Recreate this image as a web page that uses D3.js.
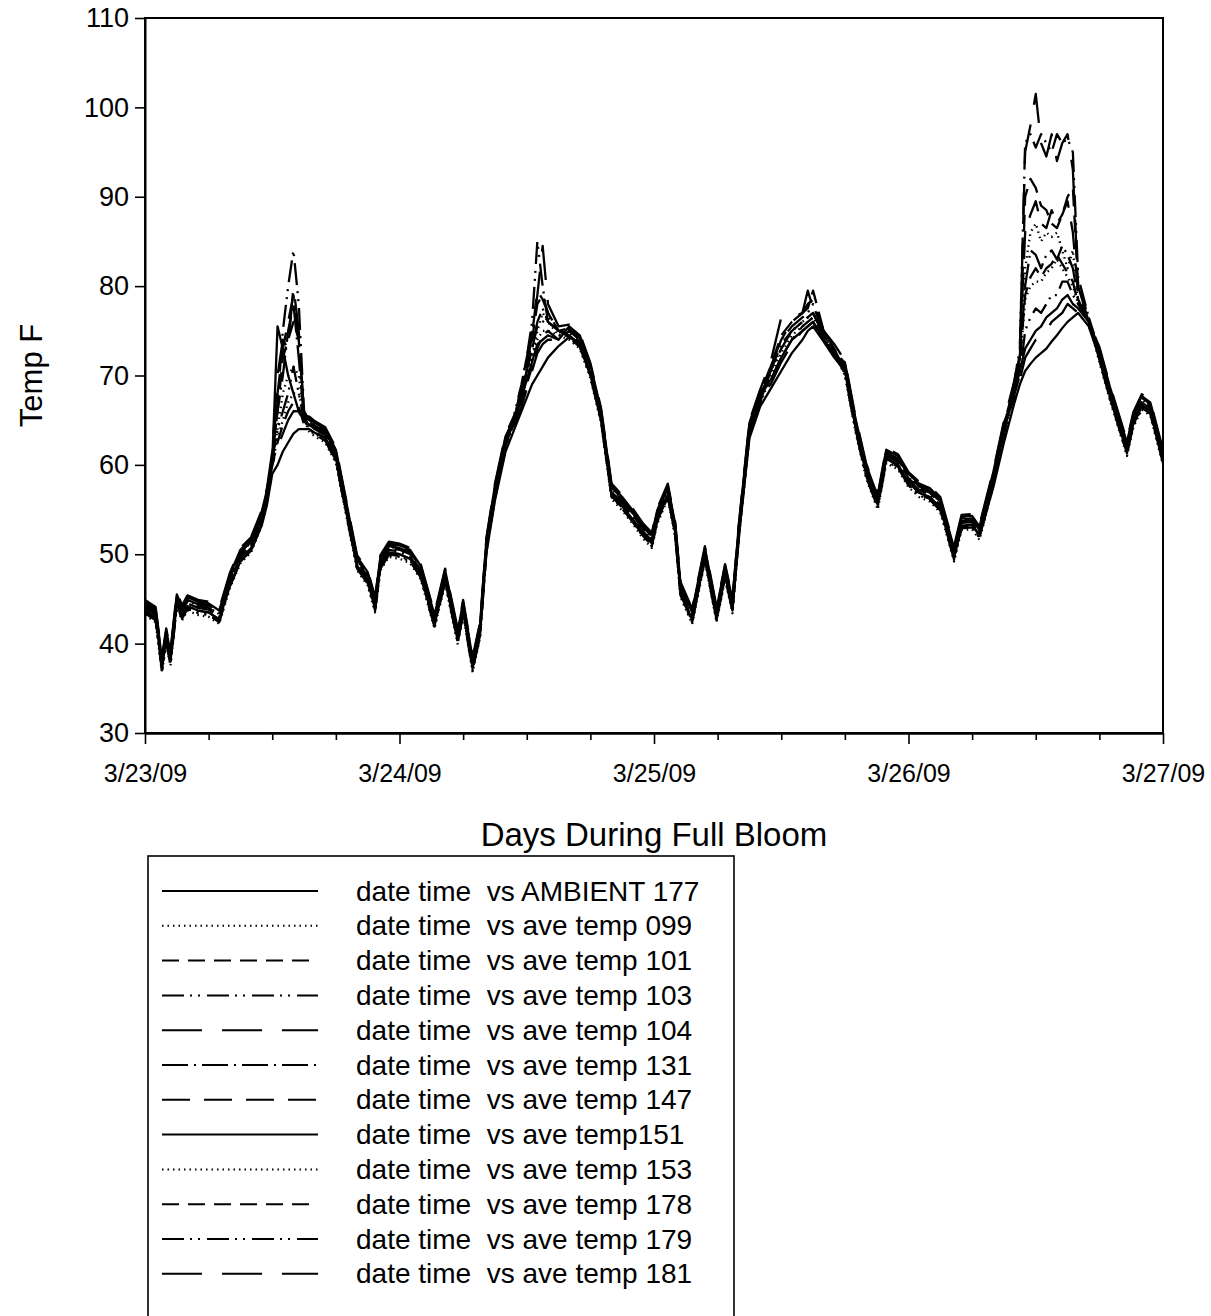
<!DOCTYPE html>
<html>
<head>
<meta charset="utf-8">
<script src="https://cdn.jsdelivr.net/npm/d3@7"></script>
<style>
  body { margin: 0; background: #fff; }
  svg { display: block; font-family: "Liberation Sans", Arial, sans-serif; }
  .legend text { white-space: pre; }
</style>
</head>
<body>
<svg id="chart" width="1211" height="1316"></svg>
<script>
// ---- data: hours after 3/23/09 00:00
const hours = [
  0, 1, 1.6, 2, 2.4, 3, 3.5, 4, 5, 6, 7, 8, 9, 10, 11, 11.5, 12, 12.5, 13, 13.5, 14, 14.5, 15, 15.5, 16, 17, 18, 19, 20, 21, 21.7, 22.2, 23,
  24, 25, 26, 27.3, 28.3, 29.5, 30, 30.9, 31.6, 32.2, 33, 34, 35, 35.5, 36, 36.5, 37, 37.5, 38, 39, 40, 41, 42, 43, 44, 45, 46, 47, 47.8,
  48.3, 49.3, 50, 50.5, 51.6, 52.8, 53.9, 54.7, 55.4, 56, 57, 58, 59, 60, 61, 62, 62.5, 63, 64, 65, 66, 67, 68, 69.1, 69.9, 71,
  72, 73, 74, 75, 76.3, 77, 78, 78.7, 80, 81, 82, 82.5, 83, 83.5, 84, 84.5, 85, 85.5, 86, 86.5, 87, 87.5, 88, 89, 90, 91, 92.6, 93.2, 94, 94.8, 96
];

const dayLabels = ['3/23/09', '3/24/09', '3/25/09', '3/26/09', '3/27/09'];
const dayTicks = [0, 24, 48, 72, 96];
const minorTicks = [6, 12, 18, 30, 36, 42, 54, 60, 66, 78, 84, 90];
const yTicks = [30, 40, 50, 60, 70, 80, 90, 100, 110];

const ambient177 = [
  43.7, 42.9, 37.3, 40.5, 38.0, 44.5, 43.1, 44.2, 43.7, 43.5, 42.7, 46.4, 49.2, 50.4, 53.2, 55.5,
  59.0, 60.0, 61.5, 62.5, 63.5, 64.0, 64.0,
  64.0, 63.6, 63.0, 60.8, 54.6, 48.7, 47.0, 44.0, 48.7, 50.2,
  50.0, 49.5, 47.7, 42.2, 47.2, 40.4, 43.7, 37.3, 41.2, 50.2, 56.0, 61.5,
  64.5, 66.0, 67.5, 69.0, 70.0, 71.0, 72.0, 73.3,
  74.3, 73.5, 70.2, 65.2, 56.7, 55.4, 53.9, 52.2, 51.2,
  53.9, 56.7, 52.4, 45.7, 42.7, 49.7, 42.9, 47.7, 43.9, 52.0, 63.0, 66.5,
  68.5, 70.5, 72.5, 74.0, 75.0, 75.5, 73.8, 72.0,
  70.5, 64.2, 59.0, 55.5, 60.7, 60.0,
  58.0, 56.9, 56.4, 55.2, 49.7, 53.2, 53.3, 52.1, 57.5, 62.5,
  67.0, 69.0, 70.5, 71.3, 72.0, 72.5, 73.0, 73.8, 74.5, 75.3, 76.0, 76.5, 77.0, 75.5,
  72.0, 67.7, 61.5, 64.7, 66.7, 66.0, 60.5
];
const temp099 = [
  44.3, 43.5, 37.9, 41.1, 38.6, 45.1, 43.7, 44.8, 44.3, 44.1, 43.3, 47.3, 50.1, 51.3, 54.3, 56.8,
  60.5, 64.0, 68.0, 70.0, 71.0, 70.0, 65.5,
  64.8, 64.3, 63.6, 61.3, 55.3, 49.3, 47.6, 44.6, 49.3, 50.8,
  50.6, 50.1, 48.3, 42.8, 47.8, 41.0, 44.3, 37.9, 41.8, 51.3, 57.3, 62.8,
  66.0, 68.0, 70.0, 72.0, 75.0, 77.0, 76.0, 74.5,
  75.1, 74.1, 70.8, 65.8, 57.3, 56.0, 54.5, 52.8, 51.8,
  54.5, 57.3, 53.0, 46.3, 43.3, 50.3, 43.5, 48.3, 44.5, 52.8, 64.3, 67.8,
  70.5, 73.0, 75.0, 76.0, 76.5, 77.0, 74.5, 72.5,
  71.1, 64.8, 59.6, 56.1, 61.3, 60.6,
  58.6, 57.5, 57.0, 55.8, 50.3, 53.8, 53.9, 52.7, 58.8, 64.3,
  69.0, 72.0, 82.0, 86.0, 87.0, 85.0, 86.0, 85.5, 86.0, 84.0, 82.0, 84.0, 78.0, 76.0,
  72.6, 68.3, 62.1, 65.3, 67.3, 66.6, 61.1
];
const temp101 = [
  44.5, 43.7, 38.1, 41.3, 38.8, 45.3, 43.9, 45.0, 44.5, 44.3, 43.5, 47.5, 50.3, 51.5, 54.5, 57.0,
  61.0, 66.0, 72.0, 74.0, 76.0, 74.0, 66.0,
  65.0, 64.5, 63.8, 61.5, 55.5, 49.5, 47.8, 44.8, 49.5, 51.0,
  50.8, 50.3, 48.5, 43.0, 48.0, 41.2, 44.5, 38.1, 42.0, 51.5, 57.5, 63.0,
  66.0, 68.5, 71.0, 74.0, 78.0, 79.0, 77.0, 75.0,
  75.3, 74.3, 71.0, 66.0, 57.5, 56.2, 54.7, 53.0, 52.0,
  54.7, 57.5, 53.2, 46.5, 43.5, 50.5, 43.7, 48.5, 44.7, 53.0, 64.5, 68.0,
  71.0, 74.5, 76.0, 77.0, 77.5, 79.5, 75.0, 73.0,
  71.3, 65.0, 59.8, 56.3, 61.5, 60.8,
  58.8, 57.7, 57.2, 56.0, 50.5, 54.0, 54.1, 52.9, 59.0, 64.5,
  69.0, 72.0, 90.0, 92.0, 91.0, 89.0, 88.5, 87.0, 86.5, 88.0, 90.0, 91.0, 80.0, 76.5,
  72.8, 68.5, 62.3, 65.5, 67.5, 66.8, 61.3
];
const temp103 = [
  43.4, 42.6, 37.0, 40.2, 37.7, 44.2, 42.8, 43.9, 43.4, 43.2, 42.4, 46.4, 49.2, 50.4, 53.4, 55.9,
  61.0, 67.0, 75.0, 80.0, 84.0, 78.0, 66.0,
  63.9, 63.4, 62.7, 60.4, 54.4, 48.4, 46.7, 43.7, 48.4, 49.9,
  49.7, 49.2, 47.4, 41.9, 46.9, 40.1, 43.4, 37.0, 40.9, 50.4, 56.4, 61.9,
  66.5, 69.0, 72.0, 76.0, 85.0, 80.0, 76.0, 75.0,
  74.2, 73.2, 69.9, 64.9, 56.4, 55.1, 53.6, 51.9, 50.9,
  53.6, 56.4, 52.1, 45.4, 42.4, 49.4, 42.6, 47.4, 43.6, 51.9, 63.4, 66.9,
  71.0, 74.0, 75.5, 76.5, 77.0, 78.0, 74.5, 72.5,
  70.2, 63.9, 58.7, 55.2, 60.4, 59.7,
  57.7, 56.6, 56.1, 54.9, 49.4, 52.9, 53.0, 51.8, 57.9, 63.4,
  69.5, 73.0, 96.0, 97.0, 95.5, 97.0, 96.0, 95.0, 97.0, 96.0, 96.5, 95.0, 81.0, 76.5,
  71.7, 67.4, 61.2, 64.4, 66.4, 65.7, 60.2
];
const temp104 = [
  44.9, 44.1, 38.5, 41.7, 39.2, 45.7, 44.3, 45.4, 44.9, 44.7, 43.9, 47.9, 50.7, 51.9, 54.9, 57.4,
  61.5, 70.0, 74.0, 73.0, 80.0, 75.0, 65.5,
  65.4, 64.9, 64.2, 61.9, 55.9, 49.9, 48.2, 45.2, 49.9, 51.4,
  51.2, 50.7, 48.9, 43.4, 48.4, 41.6, 44.9, 38.5, 42.4, 51.9, 57.9, 63.4,
  66.0, 69.0, 72.0, 75.0, 79.0, 84.5, 78.0, 75.5,
  75.7, 74.7, 71.4, 66.4, 57.9, 56.6, 55.1, 53.4, 52.4,
  55.1, 57.9, 53.6, 46.9, 43.9, 50.9, 44.1, 48.9, 45.1, 53.4, 64.9, 68.4,
  71.5, 76.5, 76.5, 77.0, 79.5, 77.5, 75.0, 73.5,
  71.7, 65.4, 60.2, 56.7, 61.9, 61.2,
  59.2, 58.1, 57.6, 56.4, 50.9, 54.4, 54.5, 53.3, 59.4, 64.9,
  69.5, 73.0, 95.0, 98.0, 101.5, 96.0, 94.5, 97.0, 94.0, 96.0, 97.0, 93.0, 80.0, 76.0,
  73.2, 68.9, 62.7, 65.9, 67.9, 67.2, 61.7
];
const temp131 = [
  44.0, 43.2, 37.6, 40.8, 38.3, 44.8, 43.4, 44.5, 44.0, 43.8, 43.0, 47.0, 49.8, 51.0, 54.0, 56.5,
  61.0, 66.0, 70.0, 75.0, 78.0, 72.0, 65.0,
  64.5, 64.0, 63.3, 61.0, 55.0, 49.0, 47.3, 44.3, 49.0, 50.5,
  50.3, 49.8, 48.0, 42.5, 47.5, 40.7, 44.0, 37.6, 41.5, 51.0, 57.0, 62.5,
  65.5, 68.0, 70.5, 73.0, 76.0, 77.5, 76.0, 75.0,
  74.8, 73.8, 70.5, 65.5, 57.0, 55.7, 54.2, 52.5, 51.5,
  54.2, 57.0, 52.7, 46.0, 43.0, 50.0, 43.2, 48.0, 44.2, 52.5, 64.0, 67.5,
  70.5, 73.5, 75.0, 76.0, 76.5, 77.0, 74.5, 72.5,
  70.8, 64.5, 59.3, 55.8, 61.0, 60.3,
  58.3, 57.2, 56.7, 55.5, 50.0, 53.5, 53.6, 52.4, 58.5, 64.0,
  69.0, 72.0, 80.0, 84.0, 83.5, 82.0, 83.5, 84.0, 83.0, 84.5, 83.5, 82.0, 78.5, 76.0,
  72.3, 68.0, 61.8, 65.0, 67.0, 66.3, 60.8
];
const temp147 = [
  43.7, 42.9, 37.3, 40.5, 38.0, 44.5, 43.1, 44.2, 43.7, 43.5, 42.7, 46.7, 49.5, 50.7, 53.7, 56.2,
  61.0, 68.0, 73.0, 76.0, 79.0, 74.0, 65.5,
  64.2, 63.7, 63.0, 60.7, 54.7, 48.7, 47.0, 44.0, 48.7, 50.2,
  50.0, 49.5, 47.7, 42.2, 47.2, 40.4, 43.7, 37.3, 41.2, 50.7, 56.7, 62.2,
  66.0, 68.5, 71.0, 74.5, 79.5, 78.5, 77.0, 75.0,
  74.5, 73.5, 70.2, 65.2, 56.7, 55.4, 53.9, 52.2, 51.2,
  53.9, 56.7, 52.4, 45.7, 42.7, 49.7, 42.9, 47.7, 43.9, 52.2, 63.7, 67.2,
  71.0, 74.0, 76.0, 77.0, 78.0, 78.5, 75.0, 73.0,
  70.5, 64.2, 59.0, 55.5, 60.7, 60.0,
  58.0, 56.9, 56.4, 55.2, 49.7, 53.2, 53.3, 52.1, 58.2, 63.7,
  69.0, 72.5, 86.0, 88.0, 89.5, 87.0, 86.5, 88.5, 87.0, 88.0, 89.5, 86.0, 79.0, 76.0,
  72.0, 67.7, 61.5, 64.7, 66.7, 66.0, 60.5
];
const temp151 = [
  44.7, 43.9, 38.3, 41.5, 39.0, 45.5, 44.1, 45.2, 44.7, 44.5, 43.7, 47.7, 50.5, 51.7, 54.7, 57.2,
  60.5, 75.5, 73.0, 70.0, 68.0, 66.0, 65.0,
  65.2, 64.7, 64.0, 61.7, 55.7, 49.7, 48.0, 45.0, 49.7, 51.2,
  51.0, 50.5, 48.7, 43.2, 48.2, 41.4, 44.7, 38.3, 42.2, 51.7, 57.7, 63.2,
  65.5, 67.5, 69.5, 71.5, 73.5, 74.0, 74.5, 74.0,
  75.5, 74.5, 71.2, 66.2, 57.7, 56.4, 54.9, 53.2, 52.2,
  54.9, 57.7, 53.4, 46.7, 43.7, 50.7, 43.9, 48.7, 44.9, 53.2, 64.7, 68.2,
  69.5, 72.0, 74.0, 75.0, 75.5, 76.0, 74.0, 72.3,
  71.5, 65.2, 60.0, 56.5, 61.7, 61.0,
  59.0, 57.9, 57.4, 56.2, 50.7, 54.2, 54.3, 53.1, 59.2, 64.7,
  68.0, 70.5, 73.0, 74.0, 75.0, 75.5, 76.5, 77.0, 77.5, 78.5, 79.0, 78.0, 77.5, 76.0,
  73.0, 68.7, 62.5, 65.7, 67.7, 67.0, 61.5
];
const temp153 = [
  43.2, 42.4, 36.8, 40.0, 37.5, 44.0, 42.6, 43.7, 43.2, 43.0, 42.2, 46.2, 49.0, 50.2, 53.2, 55.7,
  60.0, 63.0, 65.0, 67.0, 68.0, 68.0, 65.0,
  63.7, 63.2, 62.5, 60.2, 54.2, 48.2, 46.5, 43.5, 48.2, 49.7,
  49.5, 49.0, 47.2, 41.7, 46.7, 39.9, 43.2, 36.8, 40.7, 50.2, 56.2, 61.7,
  65.5, 67.5, 69.5, 72.0, 74.0, 75.0, 75.0, 74.5,
  74.0, 73.0, 69.7, 64.7, 56.2, 54.9, 53.4, 51.7, 50.7,
  53.4, 56.2, 51.9, 45.2, 42.2, 49.2, 42.4, 47.2, 43.4, 51.7, 63.2, 66.7,
  70.0, 72.5, 74.5, 75.5, 76.0, 76.5, 74.5, 72.5,
  70.0, 63.7, 58.5, 55.0, 60.2, 59.5,
  57.5, 56.4, 55.9, 54.7, 49.2, 52.7, 52.8, 51.6, 57.7, 63.2,
  68.5, 71.0, 78.5, 80.0, 80.5, 80.5, 81.5, 82.0, 83.0, 82.0, 81.0, 80.0, 78.0, 76.0,
  71.5, 67.2, 61.0, 64.2, 66.2, 65.5, 60.0
];
const temp178 = [
  44.2, 43.4, 37.8, 41.0, 38.5, 45.0, 43.6, 44.7, 44.2, 44.0, 43.2, 47.2, 50.0, 51.2, 54.2, 56.7,
  60.0, 62.5, 64.5, 66.0, 67.0, 66.5, 64.5,
  64.7, 64.2, 63.5, 61.2, 55.2, 49.2, 47.5, 44.5, 49.2, 50.7,
  50.5, 50.0, 48.2, 42.7, 47.7, 40.9, 44.2, 37.8, 41.7, 51.2, 57.2, 62.7,
  65.0, 67.0, 69.0, 71.0, 73.0, 74.5, 75.0, 74.0,
  75.0, 74.0, 70.7, 65.7, 57.2, 55.9, 54.4, 52.7, 51.7,
  54.4, 57.2, 52.9, 46.2, 43.2, 50.2, 43.4, 48.2, 44.4, 52.7, 64.2, 67.7,
  69.5, 72.0, 74.0, 75.5, 76.0, 76.5, 74.5, 72.5,
  71.0, 64.7, 59.5, 56.0, 61.2, 60.5,
  58.5, 57.4, 56.9, 55.7, 50.2, 53.7, 53.8, 52.6, 58.7, 64.2,
  68.5, 71.5, 79.0, 81.0, 82.0, 81.0, 82.0, 82.5, 83.5, 82.5, 81.5, 80.5, 78.0, 76.0,
  72.5, 68.2, 62.0, 65.2, 67.2, 66.5, 61.0
];
const temp179 = [
  43.5, 42.7, 37.1, 40.3, 37.8, 44.3, 42.9, 44.0, 43.5, 43.3, 42.5, 46.5, 49.3, 50.5, 53.5, 56.0,
  60.5, 64.0, 66.0, 68.0, 71.0, 68.0, 65.0,
  64.0, 63.5, 62.8, 60.5, 54.5, 48.5, 46.8, 43.8, 48.5, 50.0,
  49.8, 49.3, 47.5, 42.0, 47.0, 40.2, 43.5, 37.1, 41.0, 50.5, 56.5, 62.0,
  66.0, 68.0, 70.5, 73.0, 75.5, 76.0, 76.5, 75.0,
  74.3, 73.3, 70.0, 65.0, 56.5, 55.2, 53.7, 52.0, 51.0,
  53.7, 56.5, 52.2, 45.5, 42.5, 49.5, 42.7, 47.5, 43.7, 52.0, 63.5, 67.0,
  70.5, 73.0, 75.0, 76.0, 76.5, 77.0, 74.5, 72.8,
  70.3, 64.0, 58.8, 55.3, 60.5, 59.8,
  57.8, 56.7, 56.2, 55.0, 49.5, 53.0, 53.1, 51.9, 58.0, 63.5,
  68.0, 70.0, 75.0, 76.5, 77.5, 77.0, 78.0, 79.0, 79.0, 80.5, 80.5, 79.0, 78.0, 76.0,
  71.8, 67.5, 61.3, 64.5, 66.5, 65.8, 60.3
];
const temp181 = [
  44.4, 43.6, 38.0, 41.2, 38.7, 45.2, 43.8, 44.9, 44.4, 44.2, 43.4, 47.4, 50.2, 51.4, 54.4, 56.9,
  60.0, 62.0, 63.5, 65.0, 66.0, 66.0, 64.5,
  64.9, 64.4, 63.7, 61.4, 55.4, 49.4, 47.7, 44.7, 49.4, 50.9,
  50.7, 50.2, 48.4, 42.9, 47.9, 41.1, 44.4, 38.0, 41.9, 51.4, 57.4, 62.9,
  65.0, 66.5, 68.5, 70.5, 72.5, 73.5, 74.0, 74.0,
  75.2, 74.2, 70.9, 65.9, 57.4, 56.1, 54.6, 52.9, 51.9,
  54.6, 57.4, 53.1, 46.4, 43.4, 50.4, 43.6, 48.4, 44.6, 52.9, 64.4, 67.9,
  69.0, 71.5, 73.5, 75.0, 75.5, 76.0, 74.0, 72.3,
  71.2, 64.9, 59.7, 56.2, 61.4, 60.7,
  58.7, 57.6, 57.1, 55.9, 50.4, 53.9, 54.0, 52.8, 58.9, 64.4,
  67.5, 69.5, 72.0, 73.0, 74.0, 74.5, 75.0, 76.0, 76.5, 77.0, 78.0, 77.5, 77.0, 75.5,
  72.7, 68.4, 62.2, 65.4, 67.4, 66.7, 61.2
];

const seriesLabels = [
  'date time  vs AMBIENT 177', 'date time  vs ave temp 099', 'date time  vs ave temp 101',
  'date time  vs ave temp 103', 'date time  vs ave temp 104', 'date time  vs ave temp 131',
  'date time  vs ave temp 147', 'date time  vs ave temp151', 'date time  vs ave temp 153',
  'date time  vs ave temp 178', 'date time  vs ave temp 179', 'date time  vs ave temp 181'
];
const seriesValues = [ambient177, temp099, temp101, temp103, temp104, temp131,
  temp147, temp151, temp153, temp178, temp179, temp181];

// line styles cycle like SigmaPlot defaults
const dashes = [null, '1.5,4', '17,9', '22,6,2,6,2,7', '40,20', '26,6,2,6', '28,14',
  null, '1.5,4', '17,9', '22,6,2,6,2,7', '40,20'];

const svg = d3.select('#chart');
const plot = { left: 145, right: 1163, top: 18, bottom: 733 };

const x = d3.scaleLinear().domain([0, 96]).range([plot.left, plot.right]);
const y = d3.scaleLinear().domain([30, 110]).range([plot.bottom, plot.top]);

// ---- lines
const line = d3.line()
  .defined(d => d[1] != null)
  .x(d => x(d[0]))
  .y(d => y(d[1]));

svg.append('g').attr('class', 'lines')
  .selectAll('path')
  .data(seriesValues)
  .join('path')
  .attr('d', vals => line(hours.map((h, i) => [h, vals[i]])))
  .attr('fill', 'none')
  .attr('stroke', '#000')
  .attr('stroke-width', 2.3)
  .attr('stroke-linejoin', 'round')
  .attr('stroke-dasharray', (d, i) => dashes[i]);

// ---- frame
svg.append('rect')
  .attr('x', plot.left).attr('y', plot.top)
  .attr('width', plot.right - plot.left).attr('height', plot.bottom - plot.top)
  .attr('fill', 'none').attr('stroke', '#000').attr('stroke-width', 2);

// ---- axes
const yAxis = d3.axisLeft(y).tickValues(yTicks).tickSize(10).tickSizeOuter(0).tickPadding(6);
const gy = svg.append('g').attr('transform', `translate(${plot.left},0)`).call(yAxis);

const xAxis = d3.axisBottom(x).tickValues(dayTicks).tickSize(11).tickSizeOuter(0).tickPadding(20)
  .tickFormat((d, i) => dayLabels[i]);
const gx = svg.append('g').attr('transform', `translate(0,${plot.bottom})`).call(xAxis);

const xMinor = d3.axisBottom(x).tickValues(minorTicks).tickSize(7).tickSizeOuter(0).tickFormat('');
const gm = svg.append('g').attr('transform', `translate(0,${plot.bottom})`).call(xMinor);

[gy, gx, gm].forEach(g => {
  g.select('.domain').attr('stroke-width', 2);
  g.selectAll('.tick line').attr('stroke-width', 1.6);
  g.selectAll('.tick text')
    .attr('font-family', '"Liberation Sans", Arial, sans-serif')
    .attr('fill', '#000');
});
gy.selectAll('.tick text').attr('font-size', 27);
gx.selectAll('.tick text').attr('font-size', 25);

// ---- axis titles
svg.append('text')
  .attr('transform', `translate(31,${(plot.top + plot.bottom) / 2}) rotate(-90)`)
  .attr('text-anchor', 'middle')
  .attr('dominant-baseline', 'central')
  .attr('font-size', 31)
  .text('Temp F');

svg.append('text')
  .attr('x', (plot.left + plot.right) / 2)
  .attr('y', 834)
  .attr('text-anchor', 'middle')
  .attr('dominant-baseline', 'central')
  .attr('font-size', 33)
  .text('Days During Full Bloom');

// ---- legend
const legend = svg.append('g').attr('class', 'legend');
legend.append('rect')
  .attr('x', 148).attr('y', 856)
  .attr('width', 586).attr('height', 500)
  .attr('fill', '#fff').attr('stroke', '#000').attr('stroke-width', 1.6);

const rows = legend.selectAll('g.row')
  .data(seriesLabels)
  .join('g')
  .attr('class', 'row')
  .attr('transform', (d, i) => `translate(0,${891 + i * 34.8})`);

rows.append('line')
  .attr('x1', 162).attr('x2', 318)
  .attr('stroke', '#000').attr('stroke-width', 2)
  .attr('stroke-dasharray', (d, i) => dashes[i]);

rows.append('text')
  .attr('x', 356)
  .attr('dominant-baseline', 'central')
  .attr('font-size', 28)
  .text(d => d);
</script>
</body>
</html>
